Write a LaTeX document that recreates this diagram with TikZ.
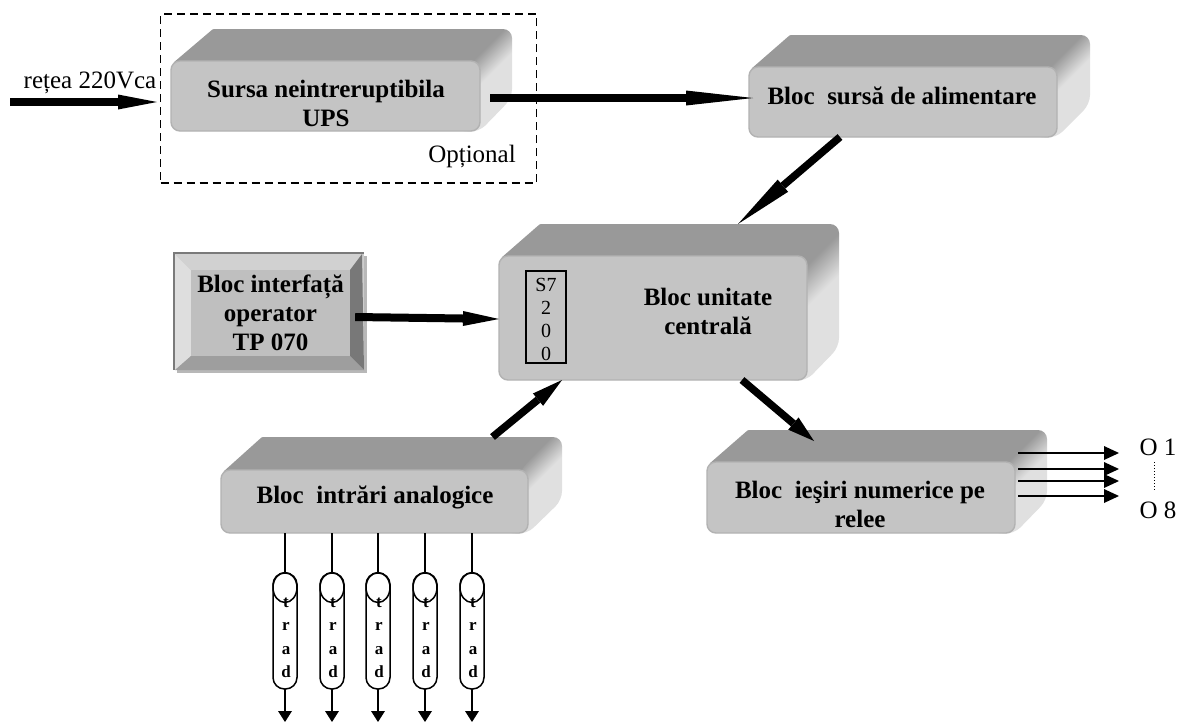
\documentclass[tikz,border=0pt]{standalone}
\usepackage{fontspec}
\setmainfont{Liberation Serif}
\usetikzlibrary{arrows.meta,shapes.geometric,calc}
\definecolor{frontc}{HTML}{C4C4C4}
\definecolor{frontedge}{HTML}{B2B2B2}
\definecolor{topc}{HTML}{999999}
\definecolor{sidec}{HTML}{E0E0E0}
\pgfdeclarehorizontalshading{sideshade}{100bp}{color(0bp)=(topc);color(36bp)=(topc);color(50bp)=(sidec);color(100bp)=(sidec)}
% \blockbox{name}{x1}{y1}{x2}{y2}{back-left x}{back-right x}{top y}
\newcommand{\blockbox}[8]{%
  \path[shading=sideshade,shading angle=-45,rounded corners=9pt]
    (#4-24,#3+2) -- (#7-30,#8) -- (#7,#8) -- (#7,#5-33) -- (#4-1,#5+1) -- (#4-24,#5) -- cycle;
  \fill[topc,rounded corners=1pt] (#2+2,#3+2) -- (#6,#8) -- (#7-16,#8) -- (#4-8,#3+2) -- cycle;
  \node[frontbox,minimum width=#4-#2,minimum height=#5-#3] (#1) at ({(#2+#4)/2},{(#3+#5)/2}) {};
}
\tikzset{
  x=1pt,y=-1pt,
  frontbox/.style={draw=frontedge,fill=frontc,line width=1.4pt,rounded corners=9pt,inner sep=0pt,outer sep=0pt},
  boxtext/.style={font=\fontsize{25}{29}\selectfont\bfseries,align=center,inner sep=0pt},
  plaintext/.style={font=\fontsize{25}{29}\selectfont,align=center,inner sep=0pt},
  s7text/.style={font=\fontsize{20}{23}\selectfont,align=center,inner sep=0pt},
  thick arrow/.style={line width=8pt,-{Triangle[length=#1,width=15pt,line width=0pt]}},
  diag arrow/.style={line width=7.5pt,-{Triangle[length=#1,width=16pt,line width=0pt]}},
  out arrow/.style={line width=1.6pt,-{Triangle[length=15pt,width=14pt,line width=0pt]}},
  capsule/.style={draw,line width=1.5pt,rounded corners=11.5pt,minimum width=24pt,minimum height=116pt,inner sep=0pt,outer sep=0pt},
  capcap/.style={draw,line width=1.5pt,ellipse,minimum width=24pt,minimum height=30pt,inner sep=0pt,outer sep=0pt},
  tradtext/.style={font=\fontsize{17}{23.5}\selectfont\bfseries,align=center,inner sep=0pt},
}
\begin{document}
\begin{tikzpicture}
\useasboundingbox (0,0) rectangle (1178,721);
\fill[white] (0,0) rectangle (1178,721);

% blocks
\blockbox{ups}{171}{61}{480}{131}{213}{512}{29}
\blockbox{alim}{749}{67}{1057}{137}{790}{1090}{35}
\blockbox{central}{499}{256}{807}{380}{540}{839}{224}
\blockbox{analog}{221}{470}{528}{533}{262}{562}{437}
\blockbox{iesiri}{707}{462}{1015}{533}{748}{1047}{430}

% optional frame
\node[draw,line width=1.3pt,dash pattern=on 8pt off 5pt,minimum width=376pt,minimum height=169pt,inner sep=0pt,outer sep=0pt] (opt) at (348.5,98.5) {};

% labels of blocks
\node[boxtext] at (326,103) {Sursa neintreruptibila\\UPS};
\node[boxtext] at (902,96) {Bloc\ \ sursă de alimentare};
\node[boxtext] at (708,311) {Bloc unitate\\centrală};
\node[boxtext] at (375,497) {Bloc\ \ intrări analogice};
\node[boxtext] at (860,504) {Bloc\ \ ieşiri numerice pe\\relee};

% operator interface
\fill[black!28] (177,256) rectangle (367,373);
\fill[black!52] (173,252) rectangle (364,370);
\fill[frontc!85!white] (175,254) rectangle (364,370);
\fill[black!13] (175,254) -- (191,270) -- (191,356) -- (175,370) -- cycle;
\fill[black!18] (175,254) -- (362,254) -- (350,270) -- (191,270) -- cycle;
\fill[black!53] (362,254) -- (350,270) -- (350,356) -- (364,370) -- cycle;
\fill[black!38] (175,370) -- (191,356) -- (350,356) -- (364,370) -- cycle;
\node[boxtext,fill=black!25,minimum width=159pt,minimum height=86pt] (oper) at (270.5,313) {Bloc interfață\\operator\\TP 070};

% S7 box
\node[draw,line width=1.3pt,minimum width=40pt,minimum height=92pt,inner sep=0pt] (s7) at (546,317) {};
\node[s7text] at (546,319) {S7\\2\\0\\0};

% main arrows
\coordinate (retea) at (10,102);
\node[plaintext] at (90,83) {rețea 220Vca};
\draw[thick arrow=39pt] (retea) -- ([shift={(-14,6)}]ups.west);
\draw[thick arrow=67pt] ([shift={(10,2)}]ups.east) -- ([shift={(4,-4)}]alim.west);
\draw[thick arrow=36pt] (oper.east) ++(5,4) -- ([yshift=-1pt]central.west);
\draw[diag arrow=59pt] ([xshift=-63pt]alim.south) -- ([shift={(85,-32)}]central.north);
\draw[diag arrow=27pt] ([xshift=89pt]central.south) -- ([shift={(-47,-21)}]iesiri.north);
\draw[diag arrow=31pt] ([shift={(118,-33)}]analog.north) -- ([xshift=-91pt]central.south);

% outputs
\foreach \yy/\n in {453/1,469/2,481/3,496/4}{
  \coordinate (o\n) at (1119,\yy);
  \draw[out arrow] (iesiri.east |- o\n) ++(3,0) -- (o\n);
}
\node[plaintext] (o1t) at (1158,447) {O 1};
\node[plaintext] (o8t) at (1158,510) {O 8};
\draw[line width=1pt,dotted] (1154,462) -- (1154,490);

% transducers
\foreach \n/\xx in {1/285,2/332,3/378,4/425,5/472}{
  \node[capsule] (cap\n) at (\xx,631) {};
  \node[capcap] (top\n) at (\xx,587.5) {};
  \node[tradtext] at (\xx+1,638) {t\\r\\a\\d};
  \coordinate (end\n) at (\xx,722);
  \draw[line width=2pt] (cap\n.north |- analog.south) -- (cap\n.north);
  \draw[line width=2pt,-{Triangle[length=11pt,width=14pt,line width=0pt]}] (cap\n.south) -- (end\n);
}

% Optional label
\node[plaintext] at (472,156) {Opțional};
\end{tikzpicture}
\end{document}
